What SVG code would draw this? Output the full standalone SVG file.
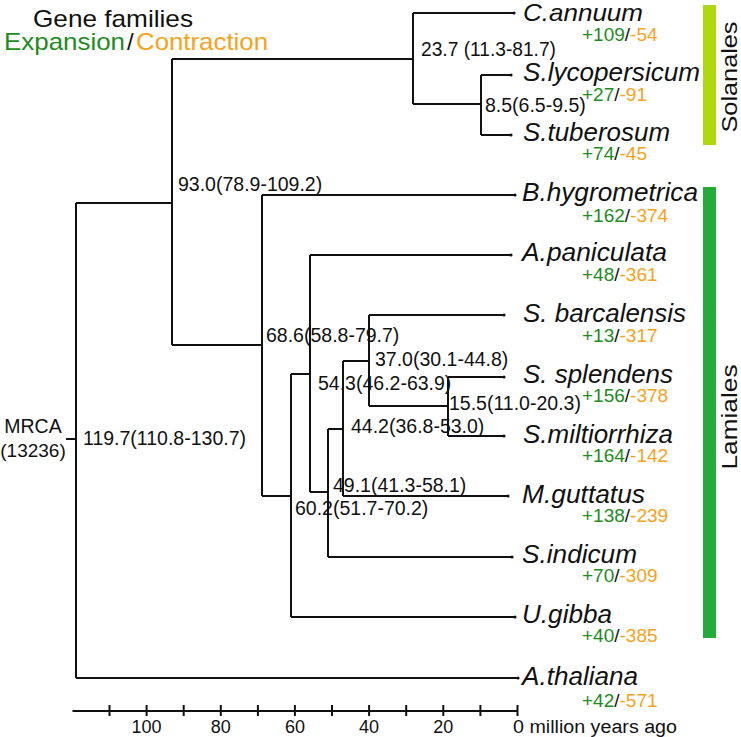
<svg xmlns="http://www.w3.org/2000/svg" width="741" height="737" viewBox="0 0 741 737">
<defs>
<marker id="tip" markerWidth="6" markerHeight="6" refX="3" refY="3" markerUnits="userSpaceOnUse"><circle cx="3" cy="3" r="1.6" fill="#111"/></marker>
<style>
text{font-family:"Liberation Sans",Arial,sans-serif;}
.br{fill:none;stroke:#111;stroke-width:2;}
.tipbr{fill:none;stroke:#111;stroke-width:2;marker-end:url(#tip);}
.sp{font-size:25px;font-style:italic;fill:#111;}
.cnt{font-size:19px;fill:#111;}
.g{fill:#1e8c1e;}
.o{fill:#f7a21b;}
.nl{font-size:19.5px;fill:#111;}
.ax{font-size:18px;fill:#111;text-anchor:middle;}
</style>
</defs>
<rect width="741" height="737" fill="#fff"/>

<g id="legend">
<text x="33" y="27" font-size="24" fill="#111" textLength="160" lengthAdjust="spacingAndGlyphs">Gene families</text>
<text x="4" y="50" font-size="24" class="g" textLength="121" lengthAdjust="spacingAndGlyphs">Expansion</text>
<text x="127" y="50" font-size="24" fill="#111">/</text>
<text x="136" y="50" font-size="24" class="o" textLength="132" lengthAdjust="spacingAndGlyphs">Contraction</text>
</g>

<g id="connectors">
<path class="br" d="M66,439H76M76,203V678M76,203H172M172,59V345"/>
<path class="br" d="M172,59H413M413,13V104M413,104H481M481,75V135"/>
<path class="tipbr" d="M413,13H514"/>
<path class="tipbr" d="M481,75H511"/>
<path class="tipbr" d="M481,135H511"/>
<path class="br" d="M172,345H262M262,195V496M262,496H291M291,374V617M291,374H310M310,255V492M310,492H328M328,429V557M328,429H343M343,361V496M343,361H369M369,315V406M369,406H448M448,377V436"/>
<path class="tipbr" d="M262,195H515"/>
<path class="tipbr" d="M310,255H511"/>
<path class="tipbr" d="M369,315H504"/>
<path class="tipbr" d="M448,377H504"/>
<path class="tipbr" d="M448,436H504"/>
<path class="tipbr" d="M343,496H508"/>
<path class="tipbr" d="M328,557H512"/>
<path class="tipbr" d="M291,617H515"/>
<path class="tipbr" d="M76,678H518"/>
</g>

<g id="n-root">
<text x="33" y="433" font-size="19.5" fill="#111" text-anchor="middle">MRCA</text>
<text x="33" y="457" font-size="19" fill="#111" text-anchor="middle">(13236)</text>
<text class="nl" x="83" y="445">119.7(110.8-130.7)</text>
</g>
<g id="n-93"><text class="nl" x="178" y="191">93.0(78.9-109.2)</text></g>
<g id="n-23"><text class="nl" x="421" y="56" textLength="135" lengthAdjust="spacingAndGlyphs">23.7 (11.3-81.7)</text></g>
<g id="n-8"><text class="nl" x="485" y="112">8.5(6.5-9.5)</text></g>
<g id="n-68"><text class="nl" x="266" y="342">68.6(58.8-79.7)</text></g>
<g id="n-37"><text class="nl" x="375" y="366">37.0(30.1-44.8)</text></g>
<g id="n-54"><text class="nl" x="318" y="390">54.3(46.2-63.9)</text></g>
<g id="n-15"><text class="nl" x="449" y="410">15.5(11.0-20.3)</text></g>
<g id="n-44"><text class="nl" x="351" y="433">44.2(36.8-53.0)</text></g>
<g id="n-49"><text class="nl" x="333" y="492">49.1(41.3-58.1)</text></g>
<g id="n-60"><text class="nl" x="295" y="515">60.2(51.7-70.2)</text></g>

<g id="t-cannuum"><text class="sp" x="523" y="21" style="font-size:24px" textLength="120" lengthAdjust="spacingAndGlyphs">C.annuum</text>
<text class="cnt" x="582" y="41"><tspan class="g">+109</tspan>/<tspan class="o">-54</tspan></text></g>
<g id="t-slyc"><text class="sp" x="523" y="81" textLength="177" lengthAdjust="spacingAndGlyphs">S.lycopersicum</text>
<text class="cnt" x="582" y="101"><tspan class="g">+27</tspan>/<tspan class="o">-91</tspan></text></g>
<g id="t-stub"><text class="sp" x="523" y="141" textLength="147" lengthAdjust="spacingAndGlyphs">S.tuberosum</text>
<text class="cnt" x="582" y="160"><tspan class="g">+74</tspan>/<tspan class="o">-45</tspan></text></g>
<g id="t-bhyg"><text class="sp" x="522" y="201" textLength="176" lengthAdjust="spacingAndGlyphs">B.hygrometrica</text>
<text class="cnt" x="582" y="222"><tspan class="g">+162</tspan>/<tspan class="o">-374</tspan></text></g>
<g id="t-apan"><text class="sp" x="522" y="261" textLength="145" lengthAdjust="spacingAndGlyphs">A.paniculata</text>
<text class="cnt" x="582" y="281"><tspan class="g">+48</tspan>/<tspan class="o">-361</tspan></text></g>
<g id="t-sbarc"><text class="sp" x="523" y="322" textLength="163" lengthAdjust="spacingAndGlyphs">S. barcalensis</text>
<text class="cnt" x="582" y="342"><tspan class="g">+13</tspan>/<tspan class="o">-317</tspan></text></g>
<g id="t-ssplen"><text class="sp" x="523" y="383" textLength="150" lengthAdjust="spacingAndGlyphs">S. splendens</text>
<text class="cnt" x="582" y="402"><tspan class="g">+156</tspan>/<tspan class="o">-378</tspan></text></g>
<g id="t-smilt"><text class="sp" x="523" y="443" textLength="150" lengthAdjust="spacingAndGlyphs">S.miltiorrhiza</text>
<text class="cnt" x="582" y="462"><tspan class="g">+164</tspan>/<tspan class="o">-142</tspan></text></g>
<g id="t-mgutt"><text class="sp" x="522" y="503" textLength="123" lengthAdjust="spacingAndGlyphs">M.guttatus</text>
<text class="cnt" x="582" y="522"><tspan class="g">+138</tspan>/<tspan class="o">-239</tspan></text></g>
<g id="t-sind"><text class="sp" x="522" y="563" textLength="115" lengthAdjust="spacingAndGlyphs">S.indicum</text>
<text class="cnt" x="582" y="582"><tspan class="g">+70</tspan>/<tspan class="o">-309</tspan></text></g>
<g id="t-ugib"><text class="sp" x="522" y="623" textLength="90" lengthAdjust="spacingAndGlyphs">U.gibba</text>
<text class="cnt" x="582" y="642"><tspan class="g">+40</tspan>/<tspan class="o">-385</tspan></text></g>
<g id="t-athal"><text class="sp" x="522" y="685" textLength="116" lengthAdjust="spacingAndGlyphs">A.thaliana</text>
<text class="cnt" x="582" y="707"><tspan class="g">+42</tspan>/<tspan class="o">-571</tspan></text></g>

<g id="clade-solanales">
<rect x="703" y="5" width="13" height="140" fill="#afd80f"/>
<text transform="translate(737,77) rotate(-90)" font-size="22" fill="#111" text-anchor="middle" textLength="111" lengthAdjust="spacingAndGlyphs">Solanales</text>
</g>
<g id="clade-lamiales">
<rect x="703" y="187" width="13" height="451" fill="#23ab3c"/>
<text transform="translate(737,417) rotate(-90)" font-size="22" fill="#111" text-anchor="middle" textLength="105" lengthAdjust="spacingAndGlyphs">Lamiales</text>
</g>

<g id="axis">
<path class="br" d="M72.5,711H517.5M517.5,705V716M480.4,705V716M443.3,705V716M406.2,705V716M369.1,705V716M332,705V716M294.9,705V716M257.9,705V716M220.8,705V716M183.7,705V716M146.6,705V716M109.5,705V716"/>
<text class="ax" x="146.6" y="733">100</text>
<text class="ax" x="220.8" y="733">80</text>
<text class="ax" x="294.9" y="733">60</text>
<text class="ax" x="369.1" y="733">40</text>
<text class="ax" x="443.3" y="733">20</text>
<text x="513" y="733" font-size="18" fill="#111" textLength="164" lengthAdjust="spacingAndGlyphs">0 million years ago</text>
</g>
</svg>
